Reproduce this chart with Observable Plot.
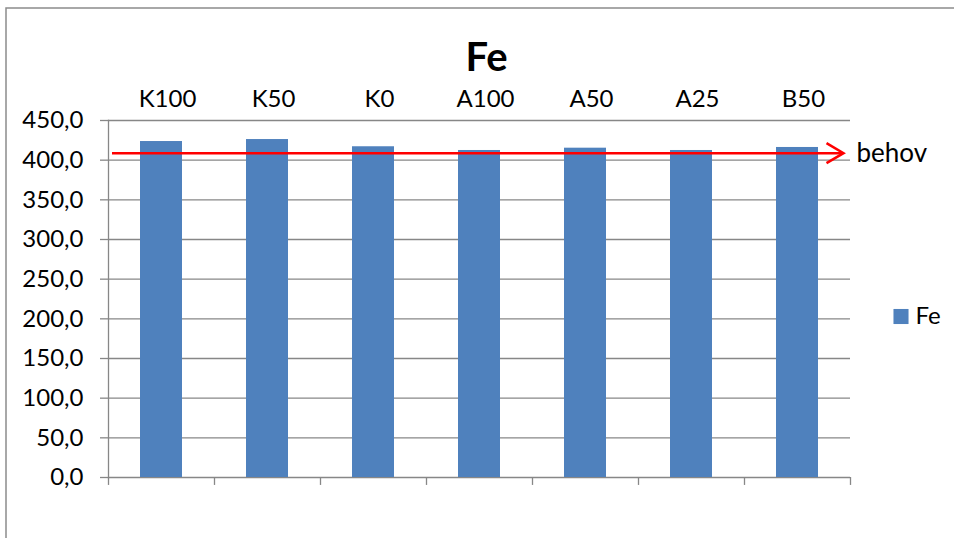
<!DOCTYPE html>
<html><head><meta charset="utf-8">
<script src="https://cdn.jsdelivr.net/npm/d3@7"></script>
<script src="https://cdn.jsdelivr.net/npm/@observablehq/plot@0.6"></script>
<style>body{margin:0;background:#fff}</style>
</head><body><div id="chart"></div>
<script>
const categories = ["K100", "K50", "K0", "A100", "A50", "A25", "B50"];
const values = [423.5, 426.0, 416.9, 412.2, 415.1, 412.2, 416.0];
const behov = 408.8;
const behovLabel = "behov";
const yTicks = [0, 50, 100, 150, 200, 250, 300, 350, 400, 450];
const seriesName = "Fe";
const title = "Fe";

const data = categories.map((c, i) => ({category: c, value: values[i]}));
const gray = "#878787";
const barColor = "#4F81BD";
const chevron = {draw(ctx) { ctx.moveTo(-17, -10); ctx.lineTo(0, 0); ctx.lineTo(-17, 10); }};

const plot = Plot.plot({
  width: 954, height: 538,
  marginLeft: 108, marginRight: 104, marginTop: 120, marginBottom: 61,
  style: {fontFamily: "Lato", fontSize: "24px", background: "white", color: "black"},
  x: {domain: categories, paddingInner: 0.6, paddingOuter: 0.3},
  y: {domain: [0, 450]},
  marks: [
    Plot.gridY(yTicks, {stroke: gray, strokeOpacity: 1, strokeWidth: 1.3}),
    Plot.axisY(yTicks, {tickSize: 8, tickPadding: 17, stroke: gray, strokeWidth: 1.3, fill: "black", label: null,
      tickFormat: d => d.toFixed(1).replace(".", ","), fontSize: 24}),
    Plot.axisX({anchor: "top", tickSize: 0, tickPadding: 14, dx: 6, fontSize: 24, fill: "black", label: null}),
    Plot.frame({anchor: "left", stroke: gray, strokeWidth: 1.3}),
    Plot.ruleX(categories, {x: d => d, dx: -53, y1: 0, y2: -10, stroke: gray, strokeWidth: 1.3}),
    Plot.ruleX(categories.slice(-1), {x: d => d, dx: 53, y1: 0, y2: -10, stroke: gray, strokeWidth: 1.3}),
    Plot.barY(data, {x: "category", y: "value", fill: barColor}),
    Plot.ruleY([behov], {stroke: "#FF0000", strokeWidth: 2.5, insetLeft: 4, insetRight: 7}),
    Plot.dot([behov], {y: d => d, frameAnchor: "right", dx: -7, symbol: chevron, stroke: "#FF0000", strokeWidth: 2.5, fill: "none"}),
    Plot.text([behov], {y: d => d, frameAnchor: "right", dx: 6, text: () => behovLabel, textAnchor: "start", fontSize: 26, lineAnchor: "middle"}),
    Plot.text([title], {frameAnchor: "top", dx: 7, dy: -62, lineAnchor: "middle", fontSize: 40, fontWeight: "bold", text: d => d}),
    Plot.dot([seriesName], {frameAnchor: "right", dx: 50.5, dy: 17.5, symbol: "square", fill: barColor, r: 8.5}),
    Plot.text([seriesName], {frameAnchor: "right", dx: 65, dy: 17.5, textAnchor: "start", lineAnchor: "middle", fontSize: 24, text: d => d})
  ]
});
d3.select(plot).append("path").attr("d", "M6,538V8H954").attr("fill", "none").attr("stroke", "#8c8c8c").attr("stroke-width", 1.5);
document.getElementById("chart").append(plot);
</script>
</body></html>
